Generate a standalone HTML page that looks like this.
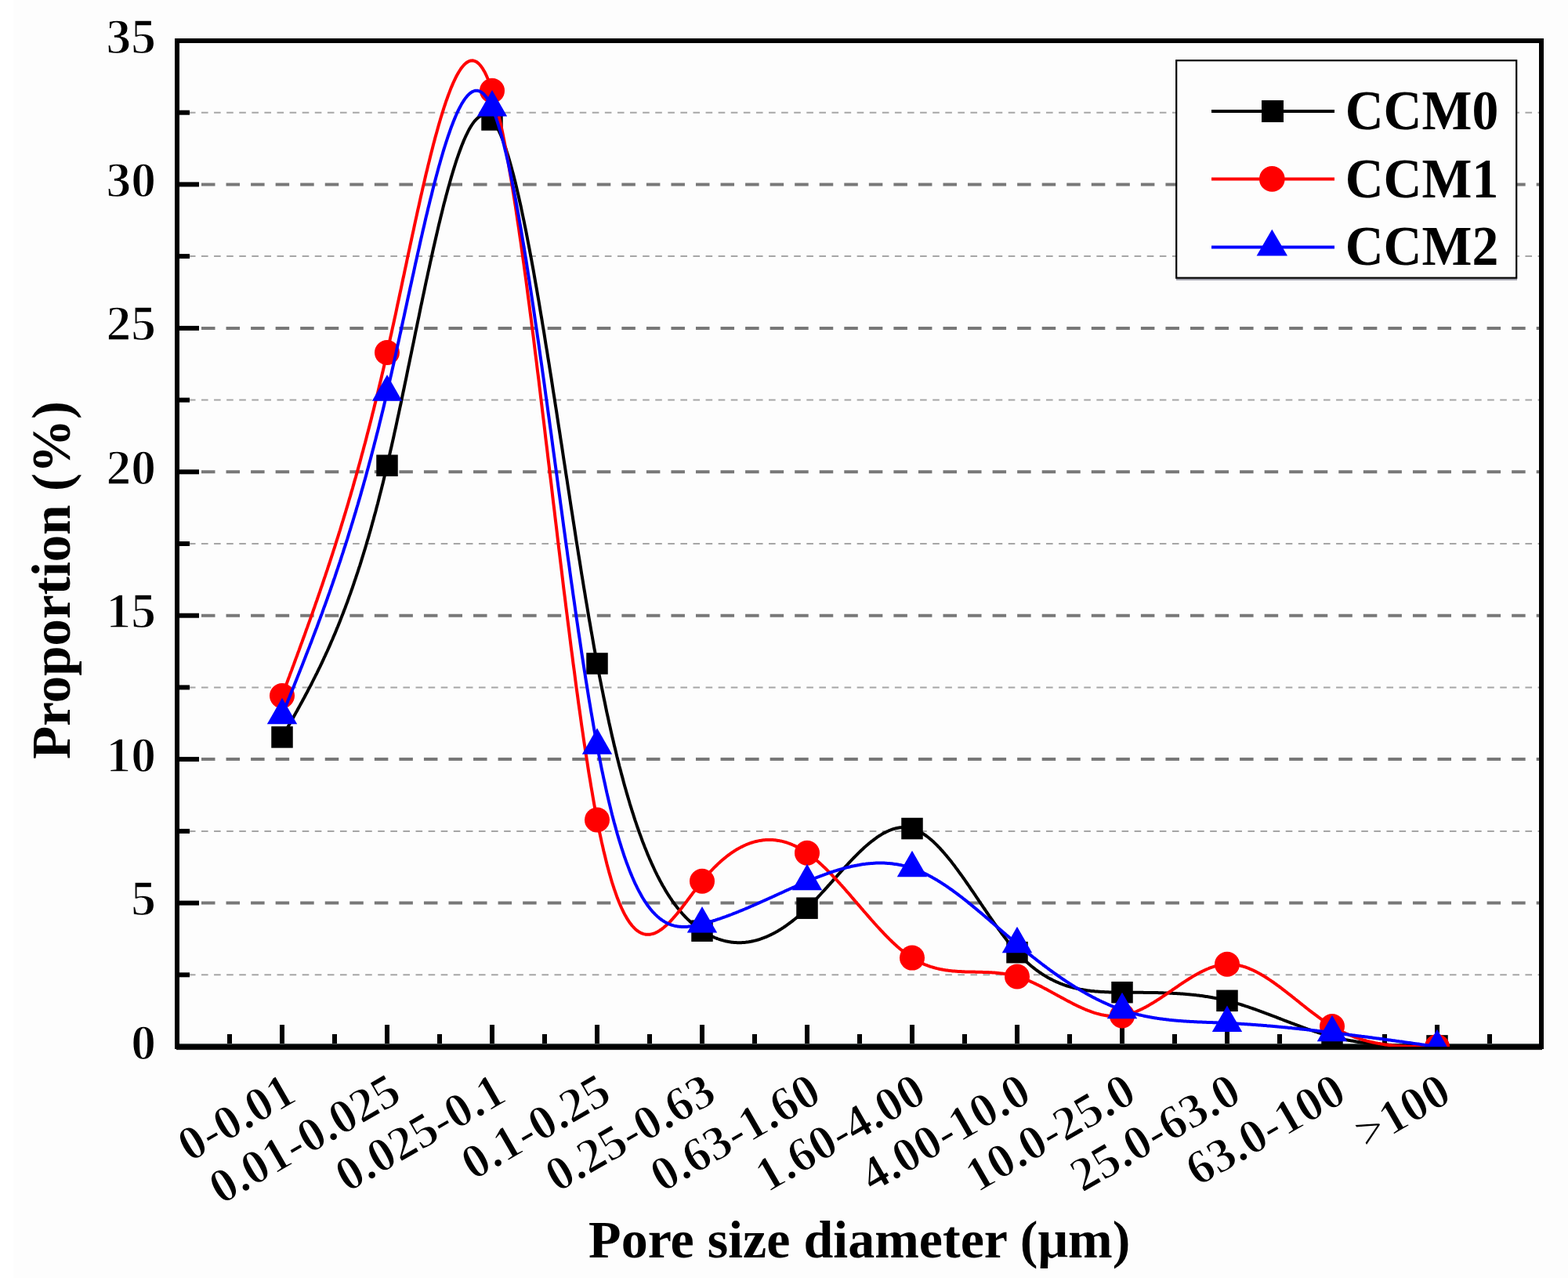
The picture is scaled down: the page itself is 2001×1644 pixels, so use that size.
<!DOCTYPE html>
<html><head><meta charset="utf-8"><title>Pore size distribution</title>
<style>html,body{margin:0;padding:0;background:#fff;width:2001px;height:1644px;overflow:hidden}svg{display:block}</style>
</head><body>
<svg width="2001" height="1644" viewBox="0 0 2001 1644">
<defs><clipPath id="pc"><rect x="226" y="52" width="1741" height="1284"/></clipPath></defs>
<rect width="2001" height="1644" fill="#fff"/>
<rect x="17" y="0" width="1984" height="1631" fill="#fdfdfd"/>
<g><line x1="224.8" y1="1244.3" x2="1967" y2="1244.3" stroke="#a6a6a6" stroke-width="2" stroke-dasharray="8.6 7.49"/><line x1="225.45" y1="1152.6" x2="1967" y2="1152.6" stroke="#787878" stroke-width="4" stroke-dasharray="17.5 14.05"/><line x1="224.8" y1="1060.9" x2="1967" y2="1060.9" stroke="#a6a6a6" stroke-width="2" stroke-dasharray="8.6 7.49"/><line x1="225.45" y1="969.1" x2="1967" y2="969.1" stroke="#787878" stroke-width="4" stroke-dasharray="17.5 14.05"/><line x1="224.8" y1="877.4" x2="1967" y2="877.4" stroke="#a6a6a6" stroke-width="2" stroke-dasharray="8.6 7.49"/><line x1="225.45" y1="785.7" x2="1967" y2="785.7" stroke="#787878" stroke-width="4" stroke-dasharray="17.5 14.05"/><line x1="224.8" y1="694.0" x2="1967" y2="694.0" stroke="#a6a6a6" stroke-width="2" stroke-dasharray="8.6 7.49"/><line x1="225.45" y1="602.3" x2="1967" y2="602.3" stroke="#787878" stroke-width="4" stroke-dasharray="17.5 14.05"/><line x1="224.8" y1="510.6" x2="1967" y2="510.6" stroke="#a6a6a6" stroke-width="2" stroke-dasharray="8.6 7.49"/><line x1="225.45" y1="418.9" x2="1967" y2="418.9" stroke="#787878" stroke-width="4" stroke-dasharray="17.5 14.05"/><line x1="224.8" y1="327.1" x2="1967" y2="327.1" stroke="#a6a6a6" stroke-width="2" stroke-dasharray="8.6 7.49"/><line x1="225.45" y1="235.4" x2="1967" y2="235.4" stroke="#787878" stroke-width="4" stroke-dasharray="17.5 14.05"/><line x1="224.8" y1="143.7" x2="1967" y2="143.7" stroke="#a6a6a6" stroke-width="2" stroke-dasharray="8.6 7.49"/></g>
<g stroke="#000" stroke-width="6"><line x1="226" y1="1336.0" x2="254" y2="1336.0"/><line x1="226" y1="1244.3" x2="242" y2="1244.3"/><line x1="226" y1="1152.6" x2="254" y2="1152.6"/><line x1="226" y1="1060.9" x2="242" y2="1060.9"/><line x1="226" y1="969.1" x2="254" y2="969.1"/><line x1="226" y1="877.4" x2="242" y2="877.4"/><line x1="226" y1="785.7" x2="254" y2="785.7"/><line x1="226" y1="694.0" x2="242" y2="694.0"/><line x1="226" y1="602.3" x2="254" y2="602.3"/><line x1="226" y1="510.6" x2="242" y2="510.6"/><line x1="226" y1="418.9" x2="254" y2="418.9"/><line x1="226" y1="327.1" x2="242" y2="327.1"/><line x1="226" y1="235.4" x2="254" y2="235.4"/><line x1="226" y1="143.7" x2="242" y2="143.7"/><line x1="226" y1="52.0" x2="254" y2="52.0"/><line x1="293.0" y1="1336" x2="293.0" y2="1320"/><line x1="360.0" y1="1336" x2="360.0" y2="1308"/><line x1="427.0" y1="1336" x2="427.0" y2="1320"/><line x1="494.0" y1="1336" x2="494.0" y2="1308"/><line x1="561.0" y1="1336" x2="561.0" y2="1320"/><line x1="628.0" y1="1336" x2="628.0" y2="1308"/><line x1="695.0" y1="1336" x2="695.0" y2="1320"/><line x1="762.0" y1="1336" x2="762.0" y2="1308"/><line x1="829.0" y1="1336" x2="829.0" y2="1320"/><line x1="896.0" y1="1336" x2="896.0" y2="1308"/><line x1="963.0" y1="1336" x2="963.0" y2="1320"/><line x1="1030.0" y1="1336" x2="1030.0" y2="1308"/><line x1="1097.0" y1="1336" x2="1097.0" y2="1320"/><line x1="1164.0" y1="1336" x2="1164.0" y2="1308"/><line x1="1231.0" y1="1336" x2="1231.0" y2="1320"/><line x1="1298.0" y1="1336" x2="1298.0" y2="1308"/><line x1="1365.0" y1="1336" x2="1365.0" y2="1320"/><line x1="1432.0" y1="1336" x2="1432.0" y2="1308"/><line x1="1499.0" y1="1336" x2="1499.0" y2="1320"/><line x1="1566.0" y1="1336" x2="1566.0" y2="1308"/><line x1="1633.0" y1="1336" x2="1633.0" y2="1320"/><line x1="1700.0" y1="1336" x2="1700.0" y2="1308"/><line x1="1767.0" y1="1336" x2="1767.0" y2="1320"/><line x1="1834.0" y1="1336" x2="1834.0" y2="1308"/><line x1="1901.0" y1="1336" x2="1901.0" y2="1320"/></g>
<rect x="226" y="52" width="1741" height="1284" fill="none" stroke="#000" stroke-width="6"/>
<rect x="225" y="1338.5" width="1743" height="1.6" fill="#1a1a1a"/>
<rect x="229" y="1332" width="1735" height="1.2" fill="#4a5252"/>
<g clip-path="url(#pc)">
<path d="M360.0,940.9 L361.3,938.5 L362.7,936.2 L364.0,933.8 L365.4,931.5 L366.7,929.1 L368.0,926.8 L369.4,924.4 L370.7,922.0 L372.1,919.7 L373.4,917.3 L374.8,914.9 L376.1,912.5 L377.4,910.1 L378.8,907.7 L380.1,905.3 L381.5,902.8 L382.8,900.4 L384.1,898.0 L385.5,895.5 L386.8,893.0 L388.2,890.5 L389.5,888.0 L390.8,885.5 L392.2,883.0 L393.5,880.4 L394.9,877.8 L396.2,875.3 L397.6,872.7 L398.9,870.0 L400.2,867.4 L401.6,864.7 L402.9,862.0 L404.3,859.3 L405.6,856.6 L406.9,853.9 L408.3,851.1 L409.6,848.3 L411.0,845.5 L412.3,842.6 L413.6,839.7 L415.0,836.8 L416.3,833.9 L417.7,831.0 L419.0,828.0 L420.4,824.9 L421.7,821.9 L423.0,818.8 L424.4,815.7 L425.7,812.6 L427.1,809.4 L428.4,806.2 L429.7,802.9 L431.1,799.7 L432.4,796.4 L433.8,793.0 L435.1,789.6 L436.4,786.2 L437.8,782.7 L439.1,779.2 L440.5,775.7 L441.8,772.1 L443.2,768.5 L444.5,764.8 L445.8,761.1 L447.2,757.4 L448.5,753.6 L449.9,749.7 L451.2,745.8 L452.5,741.9 L453.9,737.9 L455.2,733.9 L456.6,729.8 L457.9,725.7 L459.3,721.6 L460.6,717.3 L461.9,713.1 L463.3,708.7 L464.6,704.4 L466.0,699.9 L467.3,695.5 L468.6,690.9 L470.0,686.4 L471.3,681.7 L472.7,677.0 L474.0,672.3 L475.3,667.4 L476.7,662.6 L478.0,657.6 L479.4,652.7 L480.7,647.6 L482.1,642.5 L483.4,637.3 L484.7,632.1 L486.1,626.8 L487.4,621.5 L488.8,616.0 L490.1,610.5 L491.4,605.0 L492.8,599.4 L494.1,593.7 L495.5,587.9 L496.8,582.1 L498.1,576.3 L499.5,570.3 L500.8,564.3 L502.2,558.3 L503.5,552.2 L504.9,546.0 L506.2,539.9 L507.5,533.6 L508.9,527.4 L510.2,521.1 L511.6,514.7 L512.9,508.4 L514.2,502.0 L515.6,495.5 L516.9,489.1 L518.3,482.6 L519.6,476.2 L520.9,469.7 L522.3,463.2 L523.6,456.7 L525.0,450.1 L526.3,443.6 L527.7,437.1 L529.0,430.6 L530.3,424.1 L531.7,417.6 L533.0,411.1 L534.4,404.6 L535.7,398.1 L537.0,391.7 L538.4,385.3 L539.7,378.9 L541.1,372.5 L542.4,366.2 L543.7,359.9 L545.1,353.6 L546.4,347.4 L547.8,341.2 L549.1,335.1 L550.5,329.0 L551.8,322.9 L553.1,317.0 L554.5,311.0 L555.8,305.2 L557.2,299.3 L558.5,293.6 L559.8,287.9 L561.2,282.3 L562.5,276.8 L563.9,271.3 L565.2,265.9 L566.5,260.6 L567.9,255.4 L569.2,250.3 L570.6,245.3 L571.9,240.3 L573.3,235.5 L574.6,230.7 L575.9,226.1 L577.3,221.5 L578.6,217.1 L580.0,212.7 L581.3,208.5 L582.6,204.4 L584.0,200.4 L585.3,196.6 L586.7,192.8 L588.0,189.2 L589.3,185.7 L590.7,182.4 L592.0,179.1 L593.4,176.0 L594.7,173.1 L596.1,170.3 L597.4,167.6 L598.7,165.1 L600.1,162.8 L601.4,160.6 L602.8,158.5 L604.1,156.6 L605.4,154.9 L606.8,153.4 L608.1,152.0 L609.5,150.7 L610.8,149.7 L612.1,148.8 L613.5,148.1 L614.8,147.6 L616.2,147.3 L617.5,147.2 L618.9,147.2 L620.2,147.5 L621.5,147.9 L622.9,148.6 L624.2,149.4 L625.6,150.4 L626.9,151.7 L628.2,153.2 L629.6,154.8 L630.9,156.7 L632.3,158.8 L633.6,161.1 L634.9,163.6 L636.3,166.3 L637.6,169.2 L639.0,172.2 L640.3,175.5 L641.7,178.9 L643.0,182.6 L644.3,186.4 L645.7,190.3 L647.0,194.5 L648.4,198.8 L649.7,203.3 L651.0,207.9 L652.4,212.7 L653.7,217.7 L655.1,222.8 L656.4,228.0 L657.8,233.4 L659.1,239.0 L660.4,244.7 L661.8,250.5 L663.1,256.5 L664.5,262.5 L665.8,268.8 L667.1,275.1 L668.5,281.6 L669.8,288.1 L671.2,294.8 L672.5,301.6 L673.8,308.5 L675.2,315.6 L676.5,322.7 L677.9,329.9 L679.2,337.2 L680.6,344.6 L681.9,352.1 L683.2,359.7 L684.6,367.4 L685.9,375.1 L687.3,383.0 L688.6,390.9 L689.9,398.9 L691.3,406.9 L692.6,415.0 L694.0,423.2 L695.3,431.4 L696.6,439.7 L698.0,448.0 L699.3,456.4 L700.7,464.9 L702.0,473.3 L703.4,481.8 L704.7,490.4 L706.0,499.0 L707.4,507.6 L708.7,516.3 L710.1,524.9 L711.4,533.6 L712.7,542.3 L714.1,551.1 L715.4,559.8 L716.8,568.5 L718.1,577.3 L719.4,586.0 L720.8,594.8 L722.1,603.6 L723.5,612.3 L724.8,621.0 L726.2,629.8 L727.5,638.5 L728.8,647.1 L730.2,655.8 L731.5,664.4 L732.9,673.1 L734.2,681.6 L735.5,690.2 L736.9,698.7 L738.2,707.1 L739.6,715.6 L740.9,723.9 L742.2,732.3 L743.6,740.5 L744.9,748.7 L746.3,756.9 L747.6,765.0 L749.0,773.0 L750.3,781.0 L751.6,788.8 L753.0,796.7 L754.3,804.4 L755.7,812.0 L757.0,819.6 L758.3,827.1 L759.7,834.4 L761.0,841.7 L762.4,848.9 L763.7,856.0 L765.0,863.0 L766.4,869.9 L767.7,876.7 L769.1,883.4 L770.4,890.0 L771.8,896.5 L773.1,903.0 L774.4,909.3 L775.8,915.5 L777.1,921.7 L778.5,927.7 L779.8,933.7 L781.1,939.5 L782.5,945.3 L783.8,951.0 L785.2,956.6 L786.5,962.1 L787.8,967.6 L789.2,972.9 L790.5,978.2 L791.9,983.3 L793.2,988.4 L794.6,993.4 L795.9,998.4 L797.2,1003.2 L798.6,1008.0 L799.9,1012.7 L801.3,1017.3 L802.6,1021.8 L803.9,1026.3 L805.3,1030.7 L806.6,1035.0 L808.0,1039.2 L809.3,1043.3 L810.6,1047.4 L812.0,1051.4 L813.3,1055.3 L814.7,1059.2 L816.0,1063.0 L817.4,1066.7 L818.7,1070.4 L820.0,1074.0 L821.4,1077.5 L822.7,1080.9 L824.1,1084.3 L825.4,1087.6 L826.7,1090.9 L828.1,1094.0 L829.4,1097.2 L830.8,1100.2 L832.1,1103.2 L833.5,1106.2 L834.8,1109.0 L836.1,1111.9 L837.5,1114.6 L838.8,1117.3 L840.2,1120.0 L841.5,1122.5 L842.8,1125.1 L844.2,1127.5 L845.5,1130.0 L846.9,1132.3 L848.2,1134.6 L849.5,1136.9 L850.9,1139.1 L852.2,1141.2 L853.6,1143.4 L854.9,1145.4 L856.3,1147.4 L857.6,1149.4 L858.9,1151.3 L860.3,1153.1 L861.6,1155.0 L863.0,1156.7 L864.3,1158.5 L865.6,1160.1 L867.0,1161.8 L868.3,1163.4 L869.7,1164.9 L871.0,1166.5 L872.3,1167.9 L873.7,1169.4 L875.0,1170.8 L876.4,1172.1 L877.7,1173.5 L879.1,1174.7 L880.4,1176.0 L881.7,1177.2 L883.1,1178.4 L884.4,1179.5 L885.8,1180.6 L887.1,1181.7 L888.4,1182.8 L889.8,1183.8 L891.1,1184.8 L892.5,1185.8 L893.8,1186.7 L895.1,1187.6 L896.5,1188.5 L897.8,1189.3 L899.2,1190.2 L900.5,1190.9 L901.9,1191.7 L903.2,1192.5 L904.5,1193.2 L905.9,1193.9 L907.2,1194.6 L908.6,1195.2 L909.9,1195.8 L911.2,1196.4 L912.6,1197.0 L913.9,1197.5 L915.3,1198.0 L916.6,1198.5 L917.9,1199.0 L919.3,1199.4 L920.6,1199.8 L922.0,1200.2 L923.3,1200.6 L924.7,1200.9 L926.0,1201.3 L927.3,1201.6 L928.7,1201.8 L930.0,1202.1 L931.4,1202.3 L932.7,1202.5 L934.0,1202.7 L935.4,1202.8 L936.7,1202.9 L938.1,1203.0 L939.4,1203.1 L940.7,1203.2 L942.1,1203.2 L943.4,1203.2 L944.8,1203.2 L946.1,1203.2 L947.5,1203.1 L948.8,1203.0 L950.1,1202.9 L951.5,1202.8 L952.8,1202.6 L954.2,1202.4 L955.5,1202.3 L956.8,1202.0 L958.2,1201.8 L959.5,1201.5 L960.9,1201.2 L962.2,1200.9 L963.5,1200.6 L964.9,1200.3 L966.2,1199.9 L967.6,1199.5 L968.9,1199.1 L970.3,1198.6 L971.6,1198.2 L972.9,1197.7 L974.3,1197.2 L975.6,1196.7 L977.0,1196.2 L978.3,1195.6 L979.6,1195.0 L981.0,1194.4 L982.3,1193.8 L983.7,1193.1 L985.0,1192.5 L986.3,1191.8 L987.7,1191.1 L989.0,1190.4 L990.4,1189.6 L991.7,1188.9 L993.1,1188.1 L994.4,1187.3 L995.7,1186.5 L997.1,1185.6 L998.4,1184.8 L999.8,1183.9 L1001.1,1183.0 L1002.4,1182.1 L1003.8,1181.1 L1005.1,1180.2 L1006.5,1179.2 L1007.8,1178.2 L1009.2,1177.2 L1010.5,1176.2 L1011.8,1175.1 L1013.2,1174.0 L1014.5,1173.0 L1015.9,1171.9 L1017.2,1170.7 L1018.5,1169.6 L1019.9,1168.5 L1021.2,1167.3 L1022.6,1166.1 L1023.9,1164.9 L1025.2,1163.7 L1026.6,1162.4 L1027.9,1161.2 L1029.3,1159.9 L1030.6,1158.6 L1032.0,1157.3 L1033.3,1155.9 L1034.6,1154.6 L1036.0,1153.3 L1037.3,1151.9 L1038.7,1150.5 L1040.0,1149.1 L1041.3,1147.7 L1042.7,1146.3 L1044.0,1144.9 L1045.4,1143.4 L1046.7,1142.0 L1048.0,1140.5 L1049.4,1139.0 L1050.7,1137.6 L1052.1,1136.1 L1053.4,1134.6 L1054.8,1133.1 L1056.1,1131.6 L1057.4,1130.1 L1058.8,1128.6 L1060.1,1127.1 L1061.5,1125.6 L1062.8,1124.1 L1064.1,1122.6 L1065.5,1121.1 L1066.8,1119.6 L1068.2,1118.1 L1069.5,1116.6 L1070.8,1115.1 L1072.2,1113.6 L1073.5,1112.1 L1074.9,1110.6 L1076.2,1109.2 L1077.6,1107.7 L1078.9,1106.2 L1080.2,1104.8 L1081.6,1103.3 L1082.9,1101.9 L1084.3,1100.4 L1085.6,1099.0 L1086.9,1097.6 L1088.3,1096.2 L1089.6,1094.8 L1091.0,1093.5 L1092.3,1092.1 L1093.6,1090.8 L1095.0,1089.4 L1096.3,1088.1 L1097.7,1086.8 L1099.0,1085.5 L1100.4,1084.3 L1101.7,1083.0 L1103.0,1081.8 L1104.4,1080.6 L1105.7,1079.4 L1107.1,1078.3 L1108.4,1077.1 L1109.7,1076.0 L1111.1,1074.9 L1112.4,1073.8 L1113.8,1072.8 L1115.1,1071.8 L1116.4,1070.8 L1117.8,1069.8 L1119.1,1068.8 L1120.5,1067.9 L1121.8,1067.0 L1123.2,1066.2 L1124.5,1065.4 L1125.8,1064.6 L1127.2,1063.8 L1128.5,1063.1 L1129.9,1062.4 L1131.2,1061.7 L1132.5,1061.1 L1133.9,1060.5 L1135.2,1059.9 L1136.6,1059.4 L1137.9,1058.9 L1139.2,1058.4 L1140.6,1058.0 L1141.9,1057.6 L1143.3,1057.3 L1144.6,1057.0 L1146.0,1056.7 L1147.3,1056.5 L1148.6,1056.3 L1150.0,1056.2 L1151.3,1056.1 L1152.7,1056.1 L1154.0,1056.1 L1155.3,1056.1 L1156.7,1056.2 L1158.0,1056.4 L1159.4,1056.5 L1160.7,1056.8 L1162.0,1057.1 L1163.4,1057.4 L1164.7,1057.8 L1166.1,1058.2 L1167.4,1058.7 L1168.8,1059.2 L1170.1,1059.8 L1171.4,1060.4 L1172.8,1061.1 L1174.1,1061.8 L1175.5,1062.6 L1176.8,1063.4 L1178.1,1064.2 L1179.5,1065.1 L1180.8,1066.0 L1182.2,1067.0 L1183.5,1068.0 L1184.8,1069.0 L1186.2,1070.1 L1187.5,1071.3 L1188.9,1072.4 L1190.2,1073.6 L1191.6,1074.8 L1192.9,1076.1 L1194.2,1077.4 L1195.6,1078.7 L1196.9,1080.1 L1198.3,1081.5 L1199.6,1082.9 L1200.9,1084.4 L1202.3,1085.9 L1203.6,1087.4 L1205.0,1088.9 L1206.3,1090.5 L1207.7,1092.1 L1209.0,1093.7 L1210.3,1095.3 L1211.7,1097.0 L1213.0,1098.6 L1214.4,1100.3 L1215.7,1102.1 L1217.0,1103.8 L1218.4,1105.6 L1219.7,1107.4 L1221.1,1109.2 L1222.4,1111.0 L1223.7,1112.8 L1225.1,1114.7 L1226.4,1116.5 L1227.8,1118.4 L1229.1,1120.3 L1230.5,1122.2 L1231.8,1124.1 L1233.1,1126.0 L1234.5,1128.0 L1235.8,1129.9 L1237.2,1131.8 L1238.5,1133.8 L1239.8,1135.8 L1241.2,1137.7 L1242.5,1139.7 L1243.9,1141.7 L1245.2,1143.7 L1246.5,1145.6 L1247.9,1147.6 L1249.2,1149.6 L1250.6,1151.6 L1251.9,1153.6 L1253.3,1155.6 L1254.6,1157.6 L1255.9,1159.5 L1257.3,1161.5 L1258.6,1163.5 L1260.0,1165.5 L1261.3,1167.4 L1262.6,1169.4 L1264.0,1171.3 L1265.3,1173.2 L1266.7,1175.2 L1268.0,1177.1 L1269.3,1179.0 L1270.7,1180.9 L1272.0,1182.8 L1273.4,1184.6 L1274.7,1186.5 L1276.1,1188.3 L1277.4,1190.2 L1278.7,1192.0 L1280.1,1193.8 L1281.4,1195.5 L1282.8,1197.3 L1284.1,1199.0 L1285.4,1200.7 L1286.8,1202.4 L1288.1,1204.1 L1289.5,1205.8 L1290.8,1207.4 L1292.1,1209.0 L1293.5,1210.6 L1294.8,1212.1 L1296.2,1213.6 L1297.5,1215.1 L1298.9,1216.6 L1300.2,1218.0 L1301.5,1219.5 L1302.9,1220.8 L1304.2,1222.2 L1305.6,1223.5 L1306.9,1224.8 L1308.2,1226.1 L1309.6,1227.4 L1310.9,1228.6 L1312.3,1229.8 L1313.6,1230.9 L1314.9,1232.1 L1316.3,1233.2 L1317.6,1234.3 L1319.0,1235.4 L1320.3,1236.4 L1321.7,1237.5 L1323.0,1238.5 L1324.3,1239.4 L1325.7,1240.4 L1327.0,1241.3 L1328.4,1242.2 L1329.7,1243.1 L1331.0,1244.0 L1332.4,1244.8 L1333.7,1245.6 L1335.1,1246.4 L1336.4,1247.2 L1337.7,1248.0 L1339.1,1248.7 L1340.4,1249.4 L1341.8,1250.1 L1343.1,1250.8 L1344.5,1251.5 L1345.8,1252.1 L1347.1,1252.7 L1348.5,1253.4 L1349.8,1253.9 L1351.2,1254.5 L1352.5,1255.1 L1353.8,1255.6 L1355.2,1256.1 L1356.5,1256.6 L1357.9,1257.1 L1359.2,1257.6 L1360.5,1258.0 L1361.9,1258.5 L1363.2,1258.9 L1364.6,1259.3 L1365.9,1259.7 L1367.3,1260.1 L1368.6,1260.4 L1369.9,1260.8 L1371.3,1261.1 L1372.6,1261.4 L1374.0,1261.7 L1375.3,1262.0 L1376.6,1262.3 L1378.0,1262.6 L1379.3,1262.9 L1380.7,1263.1 L1382.0,1263.3 L1383.4,1263.6 L1384.7,1263.8 L1386.0,1264.0 L1387.4,1264.2 L1388.7,1264.4 L1390.1,1264.5 L1391.4,1264.7 L1392.7,1264.9 L1394.1,1265.0 L1395.4,1265.1 L1396.8,1265.3 L1398.1,1265.4 L1399.4,1265.5 L1400.8,1265.6 L1402.1,1265.7 L1403.5,1265.8 L1404.8,1265.9 L1406.2,1266.0 L1407.5,1266.1 L1408.8,1266.1 L1410.2,1266.2 L1411.5,1266.2 L1412.9,1266.3 L1414.2,1266.3 L1415.5,1266.4 L1416.9,1266.4 L1418.2,1266.5 L1419.6,1266.5 L1420.9,1266.5 L1422.2,1266.5 L1423.6,1266.6 L1424.9,1266.6 L1426.3,1266.6 L1427.6,1266.6 L1429.0,1266.6 L1430.3,1266.6 L1431.6,1266.7 L1433.0,1266.7 L1434.3,1266.7 L1435.7,1266.7 L1437.0,1266.7 L1438.3,1266.7 L1439.7,1266.7 L1441.0,1266.7 L1442.4,1266.7 L1443.7,1266.7 L1445.0,1266.7 L1446.4,1266.8 L1447.7,1266.8 L1449.1,1266.8 L1450.4,1266.8 L1451.8,1266.8 L1453.1,1266.8 L1454.4,1266.8 L1455.8,1266.8 L1457.1,1266.8 L1458.5,1266.8 L1459.8,1266.9 L1461.1,1266.9 L1462.5,1266.9 L1463.8,1266.9 L1465.2,1266.9 L1466.5,1266.9 L1467.8,1266.9 L1469.2,1267.0 L1470.5,1267.0 L1471.9,1267.0 L1473.2,1267.0 L1474.6,1267.1 L1475.9,1267.1 L1477.2,1267.1 L1478.6,1267.2 L1479.9,1267.2 L1481.3,1267.2 L1482.6,1267.3 L1483.9,1267.3 L1485.3,1267.4 L1486.6,1267.4 L1488.0,1267.4 L1489.3,1267.5 L1490.6,1267.5 L1492.0,1267.6 L1493.3,1267.7 L1494.7,1267.7 L1496.0,1267.8 L1497.4,1267.9 L1498.7,1267.9 L1500.0,1268.0 L1501.4,1268.1 L1502.7,1268.2 L1504.1,1268.2 L1505.4,1268.3 L1506.7,1268.4 L1508.1,1268.5 L1509.4,1268.6 L1510.8,1268.7 L1512.1,1268.8 L1513.4,1268.9 L1514.8,1269.1 L1516.1,1269.2 L1517.5,1269.3 L1518.8,1269.4 L1520.2,1269.6 L1521.5,1269.7 L1522.8,1269.8 L1524.2,1270.0 L1525.5,1270.1 L1526.9,1270.3 L1528.2,1270.4 L1529.5,1270.6 L1530.9,1270.8 L1532.2,1271.0 L1533.6,1271.1 L1534.9,1271.3 L1536.2,1271.5 L1537.6,1271.7 L1538.9,1271.9 L1540.3,1272.1 L1541.6,1272.3 L1543.0,1272.6 L1544.3,1272.8 L1545.6,1273.0 L1547.0,1273.2 L1548.3,1273.5 L1549.7,1273.7 L1551.0,1274.0 L1552.3,1274.3 L1553.7,1274.5 L1555.0,1274.8 L1556.4,1275.1 L1557.7,1275.4 L1559.1,1275.7 L1560.4,1276.0 L1561.7,1276.3 L1563.1,1276.6 L1564.4,1276.9 L1565.8,1277.2 L1567.1,1277.6 L1568.4,1277.9 L1569.8,1278.3 L1571.1,1278.6 L1572.5,1279.0 L1573.8,1279.4 L1575.1,1279.7 L1576.5,1280.1 L1577.8,1280.5 L1579.2,1280.9 L1580.5,1281.3 L1581.9,1281.7 L1583.2,1282.1 L1584.5,1282.5 L1585.9,1283.0 L1587.2,1283.4 L1588.6,1283.8 L1589.9,1284.3 L1591.2,1284.7 L1592.6,1285.2 L1593.9,1285.6 L1595.3,1286.1 L1596.6,1286.5 L1597.9,1287.0 L1599.3,1287.5 L1600.6,1287.9 L1602.0,1288.4 L1603.3,1288.9 L1604.7,1289.4 L1606.0,1289.8 L1607.3,1290.3 L1608.7,1290.8 L1610.0,1291.3 L1611.4,1291.8 L1612.7,1292.3 L1614.0,1292.8 L1615.4,1293.3 L1616.7,1293.8 L1618.1,1294.3 L1619.4,1294.8 L1620.7,1295.3 L1622.1,1295.9 L1623.4,1296.4 L1624.8,1296.9 L1626.1,1297.4 L1627.5,1297.9 L1628.8,1298.4 L1630.1,1299.0 L1631.5,1299.5 L1632.8,1300.0 L1634.2,1300.5 L1635.5,1301.0 L1636.8,1301.5 L1638.2,1302.1 L1639.5,1302.6 L1640.9,1303.1 L1642.2,1303.6 L1643.5,1304.1 L1644.9,1304.6 L1646.2,1305.1 L1647.6,1305.7 L1648.9,1306.2 L1650.3,1306.7 L1651.6,1307.2 L1652.9,1307.7 L1654.3,1308.2 L1655.6,1308.7 L1657.0,1309.2 L1658.3,1309.7 L1659.6,1310.2 L1661.0,1310.7 L1662.3,1311.2 L1663.7,1311.7 L1665.0,1312.1 L1666.3,1312.6 L1667.7,1313.1 L1669.0,1313.6 L1670.4,1314.0 L1671.7,1314.5 L1673.1,1315.0 L1674.4,1315.4 L1675.7,1315.9 L1677.1,1316.3 L1678.4,1316.8 L1679.8,1317.2 L1681.1,1317.6 L1682.4,1318.1 L1683.8,1318.5 L1685.1,1318.9 L1686.5,1319.3 L1687.8,1319.7 L1689.1,1320.1 L1690.5,1320.5 L1691.8,1320.9 L1693.2,1321.3 L1694.5,1321.7 L1695.9,1322.1 L1697.2,1322.4 L1698.5,1322.8 L1699.9,1323.1 L1701.2,1323.5 L1702.6,1323.8 L1703.9,1324.1 L1705.2,1324.5 L1706.6,1324.8 L1707.9,1325.1 L1709.3,1325.4 L1710.6,1325.7 L1711.9,1326.0 L1713.3,1326.3 L1714.6,1326.6 L1716.0,1326.8 L1717.3,1327.1 L1718.7,1327.4 L1720.0,1327.6 L1721.3,1327.9 L1722.7,1328.1 L1724.0,1328.4 L1725.4,1328.6 L1726.7,1328.8 L1728.0,1329.0 L1729.4,1329.2 L1730.7,1329.5 L1732.1,1329.7 L1733.4,1329.9 L1734.7,1330.1 L1736.1,1330.2 L1737.4,1330.4 L1738.8,1330.6 L1740.1,1330.8 L1741.5,1331.0 L1742.8,1331.1 L1744.1,1331.3 L1745.5,1331.4 L1746.8,1331.6 L1748.2,1331.7 L1749.5,1331.9 L1750.8,1332.0 L1752.2,1332.1 L1753.5,1332.3 L1754.9,1332.4 L1756.2,1332.5 L1757.6,1332.6 L1758.9,1332.8 L1760.2,1332.9 L1761.6,1333.0 L1762.9,1333.1 L1764.3,1333.2 L1765.6,1333.3 L1766.9,1333.3 L1768.3,1333.4 L1769.6,1333.5 L1771.0,1333.6 L1772.3,1333.7 L1773.6,1333.8 L1775.0,1333.8 L1776.3,1333.9 L1777.7,1334.0 L1779.0,1334.0 L1780.4,1334.1 L1781.7,1334.1 L1783.0,1334.2 L1784.4,1334.2 L1785.7,1334.3 L1787.1,1334.3 L1788.4,1334.4 L1789.7,1334.4 L1791.1,1334.5 L1792.4,1334.5 L1793.8,1334.5 L1795.1,1334.6 L1796.4,1334.6 L1797.8,1334.6 L1799.1,1334.6 L1800.5,1334.7 L1801.8,1334.7 L1803.2,1334.7 L1804.5,1334.7 L1805.8,1334.7 L1807.2,1334.8 L1808.5,1334.8 L1809.9,1334.8 L1811.2,1334.8 L1812.5,1334.8 L1813.9,1334.8 L1815.2,1334.8 L1816.6,1334.8 L1817.9,1334.9 L1819.2,1334.9 L1820.6,1334.9 L1821.9,1334.9 L1823.3,1334.9 L1824.6,1334.9 L1826.0,1334.9 L1827.3,1334.9 L1828.6,1334.9 L1830.0,1334.9 L1831.3,1334.9 L1832.7,1334.9 L1834.0,1334.9" fill="none" stroke="#000" stroke-width="4" stroke-linejoin="round"/><g fill="#000"><rect x="346.25" y="927.14" width="27.50" height="27.50"/><rect x="480.25" y="580.46" width="27.50" height="27.50"/><rect x="614.25" y="139.14" width="27.50" height="27.50"/><rect x="748.25" y="833.23" width="27.50" height="27.50"/><rect x="882.25" y="1174.41" width="27.50" height="27.50"/><rect x="1016.25" y="1145.42" width="27.50" height="27.50"/><rect x="1150.25" y="1043.81" width="27.50" height="27.50"/><rect x="1284.25" y="1201.92" width="27.50" height="27.50"/><rect x="1418.25" y="1252.91" width="27.50" height="27.50"/><rect x="1552.25" y="1263.55" width="27.50" height="27.50"/><rect x="1686.25" y="1309.41" width="27.50" height="27.50"/><rect x="1820.25" y="1321.15" width="27.50" height="27.50"/></g>
<path d="M360.0,888.1 L361.3,884.5 L362.7,880.9 L364.0,877.3 L365.4,873.7 L366.7,870.1 L368.0,866.5 L369.4,862.9 L370.7,859.2 L372.1,855.6 L373.4,852.0 L374.8,848.4 L376.1,844.8 L377.4,841.1 L378.8,837.5 L380.1,833.8 L381.5,830.2 L382.8,826.5 L384.1,822.8 L385.5,819.2 L386.8,815.5 L388.2,811.8 L389.5,808.1 L390.8,804.3 L392.2,800.6 L393.5,796.9 L394.9,793.1 L396.2,789.4 L397.6,785.6 L398.9,781.8 L400.2,778.0 L401.6,774.2 L402.9,770.3 L404.3,766.5 L405.6,762.6 L406.9,758.8 L408.3,754.9 L409.6,750.9 L411.0,747.0 L412.3,743.1 L413.6,739.1 L415.0,735.1 L416.3,731.1 L417.7,727.1 L419.0,723.0 L420.4,719.0 L421.7,714.9 L423.0,710.8 L424.4,706.6 L425.7,702.5 L427.1,698.3 L428.4,694.1 L429.7,689.9 L431.1,685.6 L432.4,681.4 L433.8,677.1 L435.1,672.7 L436.4,668.4 L437.8,664.0 L439.1,659.6 L440.5,655.2 L441.8,650.7 L443.2,646.2 L444.5,641.7 L445.8,637.1 L447.2,632.6 L448.5,627.9 L449.9,623.3 L451.2,618.6 L452.5,613.9 L453.9,609.2 L455.2,604.4 L456.6,599.6 L457.9,594.8 L459.3,589.9 L460.6,585.0 L461.9,580.0 L463.3,575.1 L464.6,570.0 L466.0,565.0 L467.3,559.9 L468.6,554.8 L470.0,549.6 L471.3,544.4 L472.7,539.1 L474.0,533.9 L475.3,528.5 L476.7,523.2 L478.0,517.8 L479.4,512.3 L480.7,506.8 L482.1,501.3 L483.4,495.7 L484.7,490.1 L486.1,484.4 L487.4,478.7 L488.8,473.0 L490.1,467.2 L491.4,461.3 L492.8,455.4 L494.1,449.5 L495.5,443.5 L496.8,437.5 L498.1,431.4 L499.5,425.3 L500.8,419.2 L502.2,413.0 L503.5,406.8 L504.9,400.6 L506.2,394.3 L507.5,388.0 L508.9,381.8 L510.2,375.5 L511.6,369.1 L512.9,362.8 L514.2,356.5 L515.6,350.2 L516.9,343.8 L518.3,337.5 L519.6,331.2 L520.9,324.9 L522.3,318.6 L523.6,312.3 L525.0,306.0 L526.3,299.8 L527.7,293.6 L529.0,287.4 L530.3,281.3 L531.7,275.1 L533.0,269.0 L534.4,263.0 L535.7,257.0 L537.0,251.0 L538.4,245.1 L539.7,239.3 L541.1,233.5 L542.4,227.7 L543.7,222.0 L545.1,216.4 L546.4,210.9 L547.8,205.4 L549.1,200.0 L550.5,194.6 L551.8,189.4 L553.1,184.2 L554.5,179.1 L555.8,174.1 L557.2,169.2 L558.5,164.4 L559.8,159.7 L561.2,155.0 L562.5,150.5 L563.9,146.1 L565.2,141.8 L566.5,137.6 L567.9,133.5 L569.2,129.5 L570.6,125.7 L571.9,122.0 L573.3,118.4 L574.6,114.9 L575.9,111.6 L577.3,108.4 L578.6,105.3 L580.0,102.4 L581.3,99.6 L582.6,97.0 L584.0,94.5 L585.3,92.2 L586.7,90.0 L588.0,88.0 L589.3,86.2 L590.7,84.5 L592.0,83.0 L593.4,81.6 L594.7,80.5 L596.1,79.5 L597.4,78.7 L598.7,78.1 L600.1,77.6 L601.4,77.4 L602.8,77.3 L604.1,77.4 L605.4,77.8 L606.8,78.3 L608.1,79.0 L609.5,80.0 L610.8,81.1 L612.1,82.5 L613.5,84.1 L614.8,85.9 L616.2,87.9 L617.5,90.2 L618.9,92.6 L620.2,95.3 L621.5,98.3 L622.9,101.5 L624.2,104.9 L625.6,108.5 L626.9,112.5 L628.2,116.6 L629.6,121.0 L630.9,125.7 L632.3,130.6 L633.6,135.7 L634.9,141.0 L636.3,146.6 L637.6,152.5 L639.0,158.5 L640.3,164.7 L641.7,171.2 L643.0,177.9 L644.3,184.7 L645.7,191.8 L647.0,199.0 L648.4,206.5 L649.7,214.1 L651.0,221.9 L652.4,229.9 L653.7,238.0 L655.1,246.3 L656.4,254.8 L657.8,263.4 L659.1,272.2 L660.4,281.1 L661.8,290.2 L663.1,299.4 L664.5,308.7 L665.8,318.2 L667.1,327.8 L668.5,337.5 L669.8,347.3 L671.2,357.3 L672.5,367.3 L673.8,377.5 L675.2,387.7 L676.5,398.1 L677.9,408.5 L679.2,419.0 L680.6,429.6 L681.9,440.3 L683.2,451.0 L684.6,461.8 L685.9,472.7 L687.3,483.6 L688.6,494.6 L689.9,505.6 L691.3,516.7 L692.6,527.8 L694.0,538.9 L695.3,550.1 L696.6,561.3 L698.0,572.5 L699.3,583.8 L700.7,595.0 L702.0,606.3 L703.4,617.6 L704.7,628.8 L706.0,640.1 L707.4,651.3 L708.7,662.6 L710.1,673.8 L711.4,685.0 L712.7,696.1 L714.1,707.3 L715.4,718.3 L716.8,729.4 L718.1,740.4 L719.4,751.4 L720.8,762.3 L722.1,773.1 L723.5,783.9 L724.8,794.6 L726.2,805.2 L727.5,815.8 L728.8,826.3 L730.2,836.6 L731.5,846.9 L732.9,857.1 L734.2,867.3 L735.5,877.3 L736.9,887.1 L738.2,896.9 L739.6,906.6 L740.9,916.1 L742.2,925.5 L743.6,934.8 L744.9,944.0 L746.3,953.0 L747.6,961.8 L749.0,970.5 L750.3,979.1 L751.6,987.5 L753.0,995.7 L754.3,1003.8 L755.7,1011.7 L757.0,1019.4 L758.3,1026.9 L759.7,1034.3 L761.0,1041.5 L762.4,1048.4 L763.7,1055.2 L765.0,1061.8 L766.4,1068.2 L767.7,1074.4 L769.1,1080.4 L770.4,1086.2 L771.8,1091.8 L773.1,1097.3 L774.4,1102.6 L775.8,1107.7 L777.1,1112.6 L778.5,1117.4 L779.8,1122.0 L781.1,1126.4 L782.5,1130.6 L783.8,1134.7 L785.2,1138.7 L786.5,1142.4 L787.8,1146.1 L789.2,1149.5 L790.5,1152.8 L791.9,1156.0 L793.2,1159.0 L794.6,1161.9 L795.9,1164.6 L797.2,1167.2 L798.6,1169.6 L799.9,1171.9 L801.3,1174.1 L802.6,1176.1 L803.9,1178.0 L805.3,1179.8 L806.6,1181.5 L808.0,1183.0 L809.3,1184.4 L810.6,1185.7 L812.0,1186.9 L813.3,1188.0 L814.7,1188.9 L816.0,1189.8 L817.4,1190.5 L818.7,1191.1 L820.0,1191.7 L821.4,1192.1 L822.7,1192.4 L824.1,1192.7 L825.4,1192.8 L826.7,1192.8 L828.1,1192.8 L829.4,1192.7 L830.8,1192.4 L832.1,1192.1 L833.5,1191.8 L834.8,1191.3 L836.1,1190.8 L837.5,1190.2 L838.8,1189.5 L840.2,1188.7 L841.5,1187.9 L842.8,1187.0 L844.2,1186.1 L845.5,1185.1 L846.9,1184.0 L848.2,1182.9 L849.5,1181.7 L850.9,1180.5 L852.2,1179.2 L853.6,1177.9 L854.9,1176.6 L856.3,1175.1 L857.6,1173.7 L858.9,1172.2 L860.3,1170.7 L861.6,1169.1 L863.0,1167.5 L864.3,1165.9 L865.6,1164.3 L867.0,1162.6 L868.3,1160.9 L869.7,1159.2 L871.0,1157.5 L872.3,1155.7 L873.7,1154.0 L875.0,1152.2 L876.4,1150.4 L877.7,1148.6 L879.1,1146.8 L880.4,1145.0 L881.7,1143.2 L883.1,1141.4 L884.4,1139.6 L885.8,1137.9 L887.1,1136.1 L888.4,1134.3 L889.8,1132.6 L891.1,1130.8 L892.5,1129.1 L893.8,1127.4 L895.1,1125.7 L896.5,1124.1 L897.8,1122.5 L899.2,1120.9 L900.5,1119.3 L901.9,1117.7 L903.2,1116.2 L904.5,1114.7 L905.9,1113.2 L907.2,1111.8 L908.6,1110.4 L909.9,1109.0 L911.2,1107.6 L912.6,1106.3 L913.9,1105.0 L915.3,1103.7 L916.6,1102.4 L917.9,1101.2 L919.3,1099.9 L920.6,1098.8 L922.0,1097.6 L923.3,1096.5 L924.7,1095.3 L926.0,1094.3 L927.3,1093.2 L928.7,1092.2 L930.0,1091.1 L931.4,1090.2 L932.7,1089.2 L934.0,1088.3 L935.4,1087.4 L936.7,1086.5 L938.1,1085.6 L939.4,1084.8 L940.7,1084.0 L942.1,1083.2 L943.4,1082.5 L944.8,1081.8 L946.1,1081.1 L947.5,1080.4 L948.8,1079.7 L950.1,1079.1 L951.5,1078.5 L952.8,1077.9 L954.2,1077.4 L955.5,1076.9 L956.8,1076.4 L958.2,1075.9 L959.5,1075.5 L960.9,1075.1 L962.2,1074.7 L963.5,1074.3 L964.9,1074.0 L966.2,1073.7 L967.6,1073.4 L968.9,1073.1 L970.3,1072.9 L971.6,1072.7 L972.9,1072.5 L974.3,1072.3 L975.6,1072.2 L977.0,1072.1 L978.3,1072.0 L979.6,1072.0 L981.0,1071.9 L982.3,1071.9 L983.7,1072.0 L985.0,1072.0 L986.3,1072.1 L987.7,1072.2 L989.0,1072.3 L990.4,1072.5 L991.7,1072.7 L993.1,1072.9 L994.4,1073.1 L995.7,1073.4 L997.1,1073.6 L998.4,1073.9 L999.8,1074.3 L1001.1,1074.6 L1002.4,1075.0 L1003.8,1075.4 L1005.1,1075.9 L1006.5,1076.3 L1007.8,1076.8 L1009.2,1077.4 L1010.5,1077.9 L1011.8,1078.5 L1013.2,1079.1 L1014.5,1079.7 L1015.9,1080.3 L1017.2,1081.0 L1018.5,1081.7 L1019.9,1082.4 L1021.2,1083.2 L1022.6,1084.0 L1023.9,1084.8 L1025.2,1085.6 L1026.6,1086.4 L1027.9,1087.3 L1029.3,1088.2 L1030.6,1089.2 L1032.0,1090.1 L1033.3,1091.1 L1034.6,1092.1 L1036.0,1093.2 L1037.3,1094.2 L1038.7,1095.3 L1040.0,1096.4 L1041.3,1097.5 L1042.7,1098.7 L1044.0,1099.8 L1045.4,1101.0 L1046.7,1102.2 L1048.0,1103.4 L1049.4,1104.7 L1050.7,1106.0 L1052.1,1107.2 L1053.4,1108.5 L1054.8,1109.8 L1056.1,1111.2 L1057.4,1112.5 L1058.8,1113.9 L1060.1,1115.3 L1061.5,1116.7 L1062.8,1118.1 L1064.1,1119.5 L1065.5,1120.9 L1066.8,1122.3 L1068.2,1123.8 L1069.5,1125.3 L1070.8,1126.7 L1072.2,1128.2 L1073.5,1129.7 L1074.9,1131.2 L1076.2,1132.7 L1077.6,1134.2 L1078.9,1135.7 L1080.2,1137.3 L1081.6,1138.8 L1082.9,1140.3 L1084.3,1141.9 L1085.6,1143.4 L1086.9,1145.0 L1088.3,1146.6 L1089.6,1148.1 L1091.0,1149.7 L1092.3,1151.2 L1093.6,1152.8 L1095.0,1154.4 L1096.3,1155.9 L1097.7,1157.5 L1099.0,1159.1 L1100.4,1160.6 L1101.7,1162.2 L1103.0,1163.7 L1104.4,1165.3 L1105.7,1166.8 L1107.1,1168.4 L1108.4,1169.9 L1109.7,1171.4 L1111.1,1173.0 L1112.4,1174.5 L1113.8,1176.0 L1115.1,1177.5 L1116.4,1179.0 L1117.8,1180.5 L1119.1,1182.0 L1120.5,1183.5 L1121.8,1184.9 L1123.2,1186.4 L1124.5,1187.8 L1125.8,1189.2 L1127.2,1190.7 L1128.5,1192.1 L1129.9,1193.5 L1131.2,1194.8 L1132.5,1196.2 L1133.9,1197.5 L1135.2,1198.9 L1136.6,1200.2 L1137.9,1201.5 L1139.2,1202.8 L1140.6,1204.0 L1141.9,1205.3 L1143.3,1206.5 L1144.6,1207.7 L1146.0,1208.9 L1147.3,1210.0 L1148.6,1211.2 L1150.0,1212.3 L1151.3,1213.4 L1152.7,1214.5 L1154.0,1215.6 L1155.3,1216.6 L1156.7,1217.6 L1158.0,1218.6 L1159.4,1219.5 L1160.7,1220.5 L1162.0,1221.4 L1163.4,1222.3 L1164.7,1223.1 L1166.1,1223.9 L1167.4,1224.7 L1168.8,1225.5 L1170.1,1226.2 L1171.4,1227.0 L1172.8,1227.7 L1174.1,1228.3 L1175.5,1229.0 L1176.8,1229.6 L1178.1,1230.2 L1179.5,1230.8 L1180.8,1231.3 L1182.2,1231.8 L1183.5,1232.4 L1184.8,1232.8 L1186.2,1233.3 L1187.5,1233.8 L1188.9,1234.2 L1190.2,1234.6 L1191.6,1235.0 L1192.9,1235.4 L1194.2,1235.7 L1195.6,1236.1 L1196.9,1236.4 L1198.3,1236.7 L1199.6,1237.0 L1200.9,1237.2 L1202.3,1237.5 L1203.6,1237.8 L1205.0,1238.0 L1206.3,1238.2 L1207.7,1238.4 L1209.0,1238.6 L1210.3,1238.8 L1211.7,1238.9 L1213.0,1239.1 L1214.4,1239.2 L1215.7,1239.4 L1217.0,1239.5 L1218.4,1239.6 L1219.7,1239.7 L1221.1,1239.8 L1222.4,1239.9 L1223.7,1240.0 L1225.1,1240.1 L1226.4,1240.1 L1227.8,1240.2 L1229.1,1240.3 L1230.5,1240.3 L1231.8,1240.4 L1233.1,1240.4 L1234.5,1240.4 L1235.8,1240.5 L1237.2,1240.5 L1238.5,1240.5 L1239.8,1240.6 L1241.2,1240.6 L1242.5,1240.6 L1243.9,1240.6 L1245.2,1240.7 L1246.5,1240.7 L1247.9,1240.7 L1249.2,1240.7 L1250.6,1240.8 L1251.9,1240.8 L1253.3,1240.8 L1254.6,1240.9 L1255.9,1240.9 L1257.3,1240.9 L1258.6,1241.0 L1260.0,1241.0 L1261.3,1241.1 L1262.6,1241.2 L1264.0,1241.2 L1265.3,1241.3 L1266.7,1241.4 L1268.0,1241.5 L1269.3,1241.6 L1270.7,1241.7 L1272.0,1241.8 L1273.4,1241.9 L1274.7,1242.1 L1276.1,1242.2 L1277.4,1242.4 L1278.7,1242.5 L1280.1,1242.7 L1281.4,1242.9 L1282.8,1243.1 L1284.1,1243.3 L1285.4,1243.6 L1286.8,1243.8 L1288.1,1244.1 L1289.5,1244.3 L1290.8,1244.6 L1292.1,1244.9 L1293.5,1245.3 L1294.8,1245.6 L1296.2,1246.0 L1297.5,1246.3 L1298.9,1246.7 L1300.2,1247.2 L1301.5,1247.6 L1302.9,1248.0 L1304.2,1248.5 L1305.6,1249.0 L1306.9,1249.5 L1308.2,1250.0 L1309.6,1250.5 L1310.9,1251.0 L1312.3,1251.6 L1313.6,1252.2 L1314.9,1252.7 L1316.3,1253.3 L1317.6,1253.9 L1319.0,1254.5 L1320.3,1255.2 L1321.7,1255.8 L1323.0,1256.5 L1324.3,1257.1 L1325.7,1257.8 L1327.0,1258.4 L1328.4,1259.1 L1329.7,1259.8 L1331.0,1260.5 L1332.4,1261.2 L1333.7,1261.9 L1335.1,1262.6 L1336.4,1263.3 L1337.7,1264.1 L1339.1,1264.8 L1340.4,1265.5 L1341.8,1266.2 L1343.1,1267.0 L1344.5,1267.7 L1345.8,1268.4 L1347.1,1269.2 L1348.5,1269.9 L1349.8,1270.7 L1351.2,1271.4 L1352.5,1272.1 L1353.8,1272.9 L1355.2,1273.6 L1356.5,1274.3 L1357.9,1275.1 L1359.2,1275.8 L1360.5,1276.5 L1361.9,1277.2 L1363.2,1277.9 L1364.6,1278.6 L1365.9,1279.3 L1367.3,1280.0 L1368.6,1280.7 L1369.9,1281.4 L1371.3,1282.1 L1372.6,1282.7 L1374.0,1283.4 L1375.3,1284.1 L1376.6,1284.7 L1378.0,1285.3 L1379.3,1285.9 L1380.7,1286.5 L1382.0,1287.1 L1383.4,1287.7 L1384.7,1288.3 L1386.0,1288.8 L1387.4,1289.4 L1388.7,1289.9 L1390.1,1290.4 L1391.4,1290.9 L1392.7,1291.4 L1394.1,1291.9 L1395.4,1292.3 L1396.8,1292.8 L1398.1,1293.2 L1399.4,1293.6 L1400.8,1293.9 L1402.1,1294.3 L1403.5,1294.6 L1404.8,1295.0 L1406.2,1295.3 L1407.5,1295.5 L1408.8,1295.8 L1410.2,1296.0 L1411.5,1296.2 L1412.9,1296.4 L1414.2,1296.6 L1415.5,1296.8 L1416.9,1296.9 L1418.2,1297.0 L1419.6,1297.0 L1420.9,1297.1 L1422.2,1297.1 L1423.6,1297.1 L1424.9,1297.0 L1426.3,1297.0 L1427.6,1296.9 L1429.0,1296.8 L1430.3,1296.6 L1431.6,1296.4 L1433.0,1296.2 L1434.3,1296.0 L1435.7,1295.7 L1437.0,1295.4 L1438.3,1295.1 L1439.7,1294.7 L1441.0,1294.4 L1442.4,1293.9 L1443.7,1293.5 L1445.0,1293.1 L1446.4,1292.6 L1447.7,1292.1 L1449.1,1291.5 L1450.4,1291.0 L1451.8,1290.4 L1453.1,1289.8 L1454.4,1289.2 L1455.8,1288.6 L1457.1,1287.9 L1458.5,1287.3 L1459.8,1286.6 L1461.1,1285.9 L1462.5,1285.2 L1463.8,1284.4 L1465.2,1283.7 L1466.5,1282.9 L1467.8,1282.1 L1469.2,1281.3 L1470.5,1280.5 L1471.9,1279.7 L1473.2,1278.9 L1474.6,1278.0 L1475.9,1277.2 L1477.2,1276.3 L1478.6,1275.5 L1479.9,1274.6 L1481.3,1273.7 L1482.6,1272.8 L1483.9,1271.9 L1485.3,1271.0 L1486.6,1270.1 L1488.0,1269.2 L1489.3,1268.3 L1490.6,1267.4 L1492.0,1266.4 L1493.3,1265.5 L1494.7,1264.6 L1496.0,1263.7 L1497.4,1262.7 L1498.7,1261.8 L1500.0,1260.9 L1501.4,1260.0 L1502.7,1259.1 L1504.1,1258.1 L1505.4,1257.2 L1506.7,1256.3 L1508.1,1255.4 L1509.4,1254.5 L1510.8,1253.6 L1512.1,1252.8 L1513.4,1251.9 L1514.8,1251.0 L1516.1,1250.2 L1517.5,1249.3 L1518.8,1248.5 L1520.2,1247.7 L1521.5,1246.8 L1522.8,1246.0 L1524.2,1245.3 L1525.5,1244.5 L1526.9,1243.7 L1528.2,1243.0 L1529.5,1242.2 L1530.9,1241.5 L1532.2,1240.8 L1533.6,1240.2 L1534.9,1239.5 L1536.2,1238.9 L1537.6,1238.2 L1538.9,1237.6 L1540.3,1237.0 L1541.6,1236.5 L1543.0,1235.9 L1544.3,1235.4 L1545.6,1234.9 L1547.0,1234.5 L1548.3,1234.0 L1549.7,1233.6 L1551.0,1233.2 L1552.3,1232.8 L1553.7,1232.5 L1555.0,1232.2 L1556.4,1231.9 L1557.7,1231.6 L1559.1,1231.4 L1560.4,1231.2 L1561.7,1231.0 L1563.1,1230.9 L1564.4,1230.8 L1565.8,1230.7 L1567.1,1230.7 L1568.4,1230.7 L1569.8,1230.7 L1571.1,1230.8 L1572.5,1230.9 L1573.8,1231.0 L1575.1,1231.1 L1576.5,1231.3 L1577.8,1231.5 L1579.2,1231.8 L1580.5,1232.0 L1581.9,1232.3 L1583.2,1232.7 L1584.5,1233.0 L1585.9,1233.4 L1587.2,1233.8 L1588.6,1234.2 L1589.9,1234.7 L1591.2,1235.2 L1592.6,1235.7 L1593.9,1236.2 L1595.3,1236.8 L1596.6,1237.3 L1597.9,1237.9 L1599.3,1238.5 L1600.6,1239.2 L1602.0,1239.8 L1603.3,1240.5 L1604.7,1241.2 L1606.0,1241.9 L1607.3,1242.7 L1608.7,1243.4 L1610.0,1244.2 L1611.4,1245.0 L1612.7,1245.8 L1614.0,1246.6 L1615.4,1247.5 L1616.7,1248.3 L1618.1,1249.2 L1619.4,1250.1 L1620.7,1250.9 L1622.1,1251.9 L1623.4,1252.8 L1624.8,1253.7 L1626.1,1254.7 L1627.5,1255.6 L1628.8,1256.6 L1630.1,1257.6 L1631.5,1258.5 L1632.8,1259.5 L1634.2,1260.5 L1635.5,1261.5 L1636.8,1262.6 L1638.2,1263.6 L1639.5,1264.6 L1640.9,1265.7 L1642.2,1266.7 L1643.5,1267.8 L1644.9,1268.8 L1646.2,1269.9 L1647.6,1270.9 L1648.9,1272.0 L1650.3,1273.1 L1651.6,1274.1 L1652.9,1275.2 L1654.3,1276.3 L1655.6,1277.4 L1657.0,1278.4 L1658.3,1279.5 L1659.6,1280.6 L1661.0,1281.6 L1662.3,1282.7 L1663.7,1283.8 L1665.0,1284.8 L1666.3,1285.9 L1667.7,1287.0 L1669.0,1288.0 L1670.4,1289.1 L1671.7,1290.1 L1673.1,1291.1 L1674.4,1292.2 L1675.7,1293.2 L1677.1,1294.2 L1678.4,1295.2 L1679.8,1296.2 L1681.1,1297.2 L1682.4,1298.2 L1683.8,1299.2 L1685.1,1300.1 L1686.5,1301.1 L1687.8,1302.0 L1689.1,1302.9 L1690.5,1303.9 L1691.8,1304.8 L1693.2,1305.7 L1694.5,1306.5 L1695.9,1307.4 L1697.2,1308.2 L1698.5,1309.1 L1699.9,1309.9 L1701.2,1310.7 L1702.6,1311.5 L1703.9,1312.2 L1705.2,1313.0 L1706.6,1313.7 L1707.9,1314.4 L1709.3,1315.1 L1710.6,1315.8 L1711.9,1316.5 L1713.3,1317.2 L1714.6,1317.8 L1716.0,1318.4 L1717.3,1319.0 L1718.7,1319.6 L1720.0,1320.2 L1721.3,1320.8 L1722.7,1321.4 L1724.0,1321.9 L1725.4,1322.4 L1726.7,1323.0 L1728.0,1323.5 L1729.4,1324.0 L1730.7,1324.4 L1732.1,1324.9 L1733.4,1325.4 L1734.7,1325.8 L1736.1,1326.2 L1737.4,1326.7 L1738.8,1327.1 L1740.1,1327.5 L1741.5,1327.8 L1742.8,1328.2 L1744.1,1328.6 L1745.5,1328.9 L1746.8,1329.3 L1748.2,1329.6 L1749.5,1329.9 L1750.8,1330.2 L1752.2,1330.5 L1753.5,1330.8 L1754.9,1331.1 L1756.2,1331.4 L1757.6,1331.6 L1758.9,1331.9 L1760.2,1332.1 L1761.6,1332.3 L1762.9,1332.6 L1764.3,1332.8 L1765.6,1333.0 L1766.9,1333.2 L1768.3,1333.4 L1769.6,1333.5 L1771.0,1333.7 L1772.3,1333.9 L1773.6,1334.0 L1775.0,1334.2 L1776.3,1334.3 L1777.7,1334.5 L1779.0,1334.6 L1780.4,1334.7 L1781.7,1334.8 L1783.0,1334.9 L1784.4,1335.0 L1785.7,1335.1 L1787.1,1335.2 L1788.4,1335.3 L1789.7,1335.4 L1791.1,1335.5 L1792.4,1335.5 L1793.8,1335.6 L1795.1,1335.7 L1796.4,1335.7 L1797.8,1335.8 L1799.1,1335.8 L1800.5,1335.9 L1801.8,1335.9 L1803.2,1335.9 L1804.5,1336.0 L1805.8,1336.0 L1807.2,1336.0 L1808.5,1336.0 L1809.9,1336.1 L1811.2,1336.1 L1812.5,1336.1 L1813.9,1336.1 L1815.2,1336.1 L1816.6,1336.1 L1817.9,1336.1 L1819.2,1336.1 L1820.6,1336.1 L1821.9,1336.1 L1823.3,1336.1 L1824.6,1336.1 L1826.0,1336.1 L1827.3,1336.1 L1828.6,1336.0 L1830.0,1336.0 L1831.3,1336.0 L1832.7,1336.0 L1834.0,1336.0" fill="none" stroke="#f00" stroke-width="4" stroke-linejoin="round"/><g fill="#f00"><circle cx="360.0" cy="888.1" r="16.0"/><circle cx="494.0" cy="450.0" r="16.0"/><circle cx="628.0" cy="115.8" r="16.0"/><circle cx="762.0" cy="1046.5" r="16.0"/><circle cx="896.0" cy="1124.7" r="16.0"/><circle cx="1030.0" cy="1088.7" r="16.0"/><circle cx="1164.0" cy="1222.6" r="16.0"/><circle cx="1298.0" cy="1246.5" r="16.0"/><circle cx="1432.0" cy="1296.4" r="16.0"/><circle cx="1566.0" cy="1230.7" r="16.0"/><circle cx="1700.0" cy="1310.0" r="16.0"/><circle cx="1834.0" cy="1336.0" r="16.0"/></g>
<path d="M360.0,913.0 L361.3,909.7 L362.7,906.4 L364.0,903.1 L365.4,899.7 L366.7,896.4 L368.0,893.1 L369.4,889.8 L370.7,886.5 L372.1,883.1 L373.4,879.8 L374.8,876.4 L376.1,873.1 L377.4,869.7 L378.8,866.4 L380.1,863.0 L381.5,859.6 L382.8,856.3 L384.1,852.9 L385.5,849.5 L386.8,846.1 L388.2,842.6 L389.5,839.2 L390.8,835.8 L392.2,832.3 L393.5,828.9 L394.9,825.4 L396.2,821.9 L397.6,818.4 L398.9,814.9 L400.2,811.4 L401.6,807.8 L402.9,804.3 L404.3,800.7 L405.6,797.1 L406.9,793.5 L408.3,789.9 L409.6,786.2 L411.0,782.6 L412.3,778.9 L413.6,775.2 L415.0,771.5 L416.3,767.8 L417.7,764.0 L419.0,760.2 L420.4,756.4 L421.7,752.6 L423.0,748.8 L424.4,744.9 L425.7,741.0 L427.1,737.1 L428.4,733.2 L429.7,729.2 L431.1,725.2 L432.4,721.2 L433.8,717.2 L435.1,713.1 L436.4,709.0 L437.8,704.9 L439.1,700.7 L440.5,696.5 L441.8,692.3 L443.2,688.1 L444.5,683.8 L445.8,679.5 L447.2,675.2 L448.5,670.8 L449.9,666.4 L451.2,662.0 L452.5,657.6 L453.9,653.1 L455.2,648.5 L456.6,644.0 L457.9,639.4 L459.3,634.7 L460.6,630.1 L461.9,625.4 L463.3,620.6 L464.6,615.8 L466.0,611.0 L467.3,606.2 L468.6,601.3 L470.0,596.3 L471.3,591.3 L472.7,586.3 L474.0,581.3 L475.3,576.2 L476.7,571.0 L478.0,565.8 L479.4,560.6 L480.7,555.3 L482.1,550.0 L483.4,544.7 L484.7,539.3 L486.1,533.8 L487.4,528.3 L488.8,522.8 L490.1,517.2 L491.4,511.6 L492.8,505.9 L494.1,500.1 L495.5,494.4 L496.8,488.5 L498.1,482.7 L499.5,476.8 L500.8,470.8 L502.2,464.8 L503.5,458.8 L504.9,452.8 L506.2,446.7 L507.5,440.6 L508.9,434.5 L510.2,428.4 L511.6,422.2 L512.9,416.0 L514.2,409.9 L515.6,403.7 L516.9,397.5 L518.3,391.3 L519.6,385.1 L520.9,379.0 L522.3,372.8 L523.6,366.6 L525.0,360.5 L526.3,354.3 L527.7,348.2 L529.0,342.1 L530.3,336.0 L531.7,330.0 L533.0,323.9 L534.4,317.9 L535.7,312.0 L537.0,306.0 L538.4,300.1 L539.7,294.3 L541.1,288.5 L542.4,282.7 L543.7,277.0 L545.1,271.4 L546.4,265.8 L547.8,260.3 L549.1,254.8 L550.5,249.4 L551.8,244.0 L553.1,238.7 L554.5,233.5 L555.8,228.4 L557.2,223.3 L558.5,218.4 L559.8,213.5 L561.2,208.7 L562.5,204.0 L563.9,199.3 L565.2,194.8 L566.5,190.4 L567.9,186.0 L569.2,181.8 L570.6,177.7 L571.9,173.6 L573.3,169.7 L574.6,165.9 L575.9,162.3 L577.3,158.7 L578.6,155.2 L580.0,151.9 L581.3,148.7 L582.6,145.7 L584.0,142.7 L585.3,139.9 L586.7,137.3 L588.0,134.8 L589.3,132.4 L590.7,130.2 L592.0,128.1 L593.4,126.1 L594.7,124.4 L596.1,122.7 L597.4,121.3 L598.7,120.0 L600.1,118.9 L601.4,117.9 L602.8,117.1 L604.1,116.5 L605.4,116.0 L606.8,115.8 L608.1,115.7 L609.5,115.8 L610.8,116.1 L612.1,116.5 L613.5,117.2 L614.8,118.1 L616.2,119.1 L617.5,120.4 L618.9,121.9 L620.2,123.5 L621.5,125.4 L622.9,127.5 L624.2,129.8 L625.6,132.3 L626.9,135.1 L628.2,138.0 L629.6,141.2 L630.9,144.6 L632.3,148.3 L633.6,152.1 L634.9,156.1 L636.3,160.4 L637.6,164.8 L639.0,169.5 L640.3,174.3 L641.7,179.4 L643.0,184.6 L644.3,190.0 L645.7,195.6 L647.0,201.4 L648.4,207.3 L649.7,213.4 L651.0,219.7 L652.4,226.1 L653.7,232.7 L655.1,239.5 L656.4,246.4 L657.8,253.4 L659.1,260.6 L660.4,267.9 L661.8,275.4 L663.1,283.0 L664.5,290.7 L665.8,298.5 L667.1,306.5 L668.5,314.6 L669.8,322.8 L671.2,331.1 L672.5,339.5 L673.8,348.0 L675.2,356.7 L676.5,365.4 L677.9,374.2 L679.2,383.1 L680.6,392.1 L681.9,401.1 L683.2,410.3 L684.6,419.5 L685.9,428.7 L687.3,438.1 L688.6,447.5 L689.9,457.0 L691.3,466.5 L692.6,476.1 L694.0,485.7 L695.3,495.3 L696.6,505.0 L698.0,514.8 L699.3,524.6 L700.7,534.4 L702.0,544.2 L703.4,554.0 L704.7,563.9 L706.0,573.8 L707.4,583.7 L708.7,593.6 L710.1,603.5 L711.4,613.4 L712.7,623.3 L714.1,633.2 L715.4,643.1 L716.8,653.0 L718.1,662.8 L719.4,672.6 L720.8,682.4 L722.1,692.2 L723.5,702.0 L724.8,711.7 L726.2,721.3 L727.5,730.9 L728.8,740.5 L730.2,750.0 L731.5,759.5 L732.9,768.9 L734.2,778.2 L735.5,787.5 L736.9,796.7 L738.2,805.9 L739.6,814.9 L740.9,823.9 L742.2,832.8 L743.6,841.6 L744.9,850.3 L746.3,858.9 L747.6,867.4 L749.0,875.8 L750.3,884.1 L751.6,892.3 L753.0,900.4 L754.3,908.4 L755.7,916.2 L757.0,923.9 L758.3,931.5 L759.7,939.0 L761.0,946.3 L762.4,953.5 L763.7,960.5 L765.0,967.4 L766.4,974.2 L767.7,980.8 L769.1,987.3 L770.4,993.6 L771.8,999.8 L773.1,1005.9 L774.4,1011.9 L775.8,1017.7 L777.1,1023.4 L778.5,1029.0 L779.8,1034.4 L781.1,1039.7 L782.5,1044.9 L783.8,1050.0 L785.2,1054.9 L786.5,1059.8 L787.8,1064.5 L789.2,1069.1 L790.5,1073.5 L791.9,1077.9 L793.2,1082.2 L794.6,1086.3 L795.9,1090.4 L797.2,1094.3 L798.6,1098.1 L799.9,1101.8 L801.3,1105.4 L802.6,1108.9 L803.9,1112.3 L805.3,1115.6 L806.6,1118.8 L808.0,1122.0 L809.3,1125.0 L810.6,1127.9 L812.0,1130.7 L813.3,1133.4 L814.7,1136.1 L816.0,1138.6 L817.4,1141.1 L818.7,1143.5 L820.0,1145.8 L821.4,1148.0 L822.7,1150.1 L824.1,1152.2 L825.4,1154.1 L826.7,1156.0 L828.1,1157.8 L829.4,1159.5 L830.8,1161.2 L832.1,1162.8 L833.5,1164.3 L834.8,1165.7 L836.1,1167.1 L837.5,1168.4 L838.8,1169.7 L840.2,1170.8 L841.5,1172.0 L842.8,1173.0 L844.2,1174.0 L845.5,1174.9 L846.9,1175.8 L848.2,1176.6 L849.5,1177.4 L850.9,1178.1 L852.2,1178.7 L853.6,1179.3 L854.9,1179.8 L856.3,1180.3 L857.6,1180.8 L858.9,1181.2 L860.3,1181.6 L861.6,1181.9 L863.0,1182.1 L864.3,1182.4 L865.6,1182.6 L867.0,1182.7 L868.3,1182.8 L869.7,1182.9 L871.0,1183.0 L872.3,1183.0 L873.7,1183.0 L875.0,1182.9 L876.4,1182.9 L877.7,1182.8 L879.1,1182.6 L880.4,1182.5 L881.7,1182.3 L883.1,1182.1 L884.4,1181.9 L885.8,1181.7 L887.1,1181.4 L888.4,1181.1 L889.8,1180.8 L891.1,1180.5 L892.5,1180.2 L893.8,1179.9 L895.1,1179.6 L896.5,1179.2 L897.8,1178.9 L899.2,1178.5 L900.5,1178.2 L901.9,1177.8 L903.2,1177.4 L904.5,1177.0 L905.9,1176.6 L907.2,1176.2 L908.6,1175.8 L909.9,1175.4 L911.2,1175.0 L912.6,1174.6 L913.9,1174.1 L915.3,1173.7 L916.6,1173.2 L917.9,1172.8 L919.3,1172.3 L920.6,1171.9 L922.0,1171.4 L923.3,1170.9 L924.7,1170.5 L926.0,1170.0 L927.3,1169.5 L928.7,1169.0 L930.0,1168.5 L931.4,1168.0 L932.7,1167.5 L934.0,1167.0 L935.4,1166.4 L936.7,1165.9 L938.1,1165.4 L939.4,1164.9 L940.7,1164.3 L942.1,1163.8 L943.4,1163.2 L944.8,1162.7 L946.1,1162.1 L947.5,1161.6 L948.8,1161.0 L950.1,1160.5 L951.5,1159.9 L952.8,1159.3 L954.2,1158.8 L955.5,1158.2 L956.8,1157.6 L958.2,1157.0 L959.5,1156.5 L960.9,1155.9 L962.2,1155.3 L963.5,1154.7 L964.9,1154.1 L966.2,1153.5 L967.6,1152.9 L968.9,1152.3 L970.3,1151.7 L971.6,1151.1 L972.9,1150.5 L974.3,1149.9 L975.6,1149.3 L977.0,1148.7 L978.3,1148.1 L979.6,1147.5 L981.0,1146.9 L982.3,1146.3 L983.7,1145.7 L985.0,1145.1 L986.3,1144.5 L987.7,1143.9 L989.0,1143.2 L990.4,1142.6 L991.7,1142.0 L993.1,1141.4 L994.4,1140.8 L995.7,1140.2 L997.1,1139.6 L998.4,1139.0 L999.8,1138.4 L1001.1,1137.8 L1002.4,1137.1 L1003.8,1136.5 L1005.1,1135.9 L1006.5,1135.3 L1007.8,1134.7 L1009.2,1134.1 L1010.5,1133.5 L1011.8,1132.9 L1013.2,1132.3 L1014.5,1131.7 L1015.9,1131.2 L1017.2,1130.6 L1018.5,1130.0 L1019.9,1129.4 L1021.2,1128.8 L1022.6,1128.2 L1023.9,1127.6 L1025.2,1127.1 L1026.6,1126.5 L1027.9,1125.9 L1029.3,1125.4 L1030.6,1124.8 L1032.0,1124.2 L1033.3,1123.7 L1034.6,1123.1 L1036.0,1122.6 L1037.3,1122.0 L1038.7,1121.5 L1040.0,1121.0 L1041.3,1120.4 L1042.7,1119.9 L1044.0,1119.4 L1045.4,1118.9 L1046.7,1118.3 L1048.0,1117.8 L1049.4,1117.3 L1050.7,1116.8 L1052.1,1116.3 L1053.4,1115.8 L1054.8,1115.4 L1056.1,1114.9 L1057.4,1114.4 L1058.8,1113.9 L1060.1,1113.5 L1061.5,1113.0 L1062.8,1112.6 L1064.1,1112.1 L1065.5,1111.7 L1066.8,1111.3 L1068.2,1110.9 L1069.5,1110.5 L1070.8,1110.1 L1072.2,1109.7 L1073.5,1109.3 L1074.9,1108.9 L1076.2,1108.5 L1077.6,1108.2 L1078.9,1107.8 L1080.2,1107.4 L1081.6,1107.1 L1082.9,1106.8 L1084.3,1106.5 L1085.6,1106.1 L1086.9,1105.8 L1088.3,1105.5 L1089.6,1105.3 L1091.0,1105.0 L1092.3,1104.7 L1093.6,1104.5 L1095.0,1104.2 L1096.3,1104.0 L1097.7,1103.7 L1099.0,1103.5 L1100.4,1103.3 L1101.7,1103.1 L1103.0,1102.9 L1104.4,1102.8 L1105.7,1102.6 L1107.1,1102.4 L1108.4,1102.3 L1109.7,1102.2 L1111.1,1102.1 L1112.4,1101.9 L1113.8,1101.9 L1115.1,1101.8 L1116.4,1101.7 L1117.8,1101.6 L1119.1,1101.6 L1120.5,1101.6 L1121.8,1101.5 L1123.2,1101.5 L1124.5,1101.5 L1125.8,1101.6 L1127.2,1101.6 L1128.5,1101.6 L1129.9,1101.7 L1131.2,1101.8 L1132.5,1101.9 L1133.9,1102.0 L1135.2,1102.1 L1136.6,1102.2 L1137.9,1102.3 L1139.2,1102.5 L1140.6,1102.7 L1141.9,1102.9 L1143.3,1103.1 L1144.6,1103.3 L1146.0,1103.5 L1147.3,1103.8 L1148.6,1104.0 L1150.0,1104.3 L1151.3,1104.6 L1152.7,1104.9 L1154.0,1105.2 L1155.3,1105.6 L1156.7,1105.9 L1158.0,1106.3 L1159.4,1106.7 L1160.7,1107.1 L1162.0,1107.5 L1163.4,1108.0 L1164.7,1108.4 L1166.1,1108.9 L1167.4,1109.4 L1168.8,1109.9 L1170.1,1110.4 L1171.4,1111.0 L1172.8,1111.5 L1174.1,1112.1 L1175.5,1112.7 L1176.8,1113.3 L1178.1,1113.9 L1179.5,1114.6 L1180.8,1115.2 L1182.2,1115.9 L1183.5,1116.6 L1184.8,1117.3 L1186.2,1118.0 L1187.5,1118.7 L1188.9,1119.4 L1190.2,1120.2 L1191.6,1121.0 L1192.9,1121.7 L1194.2,1122.5 L1195.6,1123.3 L1196.9,1124.1 L1198.3,1125.0 L1199.6,1125.8 L1200.9,1126.6 L1202.3,1127.5 L1203.6,1128.4 L1205.0,1129.3 L1206.3,1130.1 L1207.7,1131.0 L1209.0,1132.0 L1210.3,1132.9 L1211.7,1133.8 L1213.0,1134.8 L1214.4,1135.7 L1215.7,1136.7 L1217.0,1137.7 L1218.4,1138.6 L1219.7,1139.6 L1221.1,1140.6 L1222.4,1141.6 L1223.7,1142.6 L1225.1,1143.7 L1226.4,1144.7 L1227.8,1145.7 L1229.1,1146.8 L1230.5,1147.8 L1231.8,1148.9 L1233.1,1149.9 L1234.5,1151.0 L1235.8,1152.1 L1237.2,1153.2 L1238.5,1154.3 L1239.8,1155.4 L1241.2,1156.5 L1242.5,1157.6 L1243.9,1158.7 L1245.2,1159.8 L1246.5,1160.9 L1247.9,1162.0 L1249.2,1163.2 L1250.6,1164.3 L1251.9,1165.4 L1253.3,1166.6 L1254.6,1167.7 L1255.9,1168.8 L1257.3,1170.0 L1258.6,1171.1 L1260.0,1172.3 L1261.3,1173.4 L1262.6,1174.6 L1264.0,1175.8 L1265.3,1176.9 L1266.7,1178.1 L1268.0,1179.2 L1269.3,1180.4 L1270.7,1181.6 L1272.0,1182.7 L1273.4,1183.9 L1274.7,1185.0 L1276.1,1186.2 L1277.4,1187.4 L1278.7,1188.5 L1280.1,1189.7 L1281.4,1190.9 L1282.8,1192.0 L1284.1,1193.2 L1285.4,1194.3 L1286.8,1195.5 L1288.1,1196.6 L1289.5,1197.8 L1290.8,1198.9 L1292.1,1200.1 L1293.5,1201.2 L1294.8,1202.4 L1296.2,1203.5 L1297.5,1204.6 L1298.9,1205.7 L1300.2,1206.9 L1301.5,1208.0 L1302.9,1209.1 L1304.2,1210.2 L1305.6,1211.3 L1306.9,1212.4 L1308.2,1213.5 L1309.6,1214.6 L1310.9,1215.7 L1312.3,1216.8 L1313.6,1217.9 L1314.9,1219.0 L1316.3,1220.0 L1317.6,1221.1 L1319.0,1222.2 L1320.3,1223.2 L1321.7,1224.3 L1323.0,1225.3 L1324.3,1226.4 L1325.7,1227.4 L1327.0,1228.4 L1328.4,1229.5 L1329.7,1230.5 L1331.0,1231.5 L1332.4,1232.5 L1333.7,1233.5 L1335.1,1234.5 L1336.4,1235.5 L1337.7,1236.5 L1339.1,1237.5 L1340.4,1238.5 L1341.8,1239.5 L1343.1,1240.4 L1344.5,1241.4 L1345.8,1242.3 L1347.1,1243.3 L1348.5,1244.2 L1349.8,1245.2 L1351.2,1246.1 L1352.5,1247.0 L1353.8,1248.0 L1355.2,1248.9 L1356.5,1249.8 L1357.9,1250.7 L1359.2,1251.6 L1360.5,1252.5 L1361.9,1253.4 L1363.2,1254.2 L1364.6,1255.1 L1365.9,1256.0 L1367.3,1256.8 L1368.6,1257.7 L1369.9,1258.5 L1371.3,1259.4 L1372.6,1260.2 L1374.0,1261.0 L1375.3,1261.8 L1376.6,1262.6 L1378.0,1263.4 L1379.3,1264.2 L1380.7,1265.0 L1382.0,1265.8 L1383.4,1266.6 L1384.7,1267.3 L1386.0,1268.1 L1387.4,1268.8 L1388.7,1269.6 L1390.1,1270.3 L1391.4,1271.0 L1392.7,1271.7 L1394.1,1272.5 L1395.4,1273.2 L1396.8,1273.8 L1398.1,1274.5 L1399.4,1275.2 L1400.8,1275.9 L1402.1,1276.5 L1403.5,1277.2 L1404.8,1277.8 L1406.2,1278.5 L1407.5,1279.1 L1408.8,1279.7 L1410.2,1280.3 L1411.5,1280.9 L1412.9,1281.5 L1414.2,1282.1 L1415.5,1282.7 L1416.9,1283.3 L1418.2,1283.8 L1419.6,1284.4 L1420.9,1284.9 L1422.2,1285.4 L1423.6,1286.0 L1424.9,1286.5 L1426.3,1287.0 L1427.6,1287.5 L1429.0,1288.0 L1430.3,1288.4 L1431.6,1288.9 L1433.0,1289.4 L1434.3,1289.8 L1435.7,1290.3 L1437.0,1290.7 L1438.3,1291.1 L1439.7,1291.5 L1441.0,1291.9 L1442.4,1292.3 L1443.7,1292.7 L1445.0,1293.1 L1446.4,1293.5 L1447.7,1293.8 L1449.1,1294.2 L1450.4,1294.5 L1451.8,1294.8 L1453.1,1295.2 L1454.4,1295.5 L1455.8,1295.8 L1457.1,1296.1 L1458.5,1296.4 L1459.8,1296.7 L1461.1,1297.0 L1462.5,1297.3 L1463.8,1297.5 L1465.2,1297.8 L1466.5,1298.0 L1467.8,1298.3 L1469.2,1298.5 L1470.5,1298.8 L1471.9,1299.0 L1473.2,1299.2 L1474.6,1299.4 L1475.9,1299.6 L1477.2,1299.9 L1478.6,1300.1 L1479.9,1300.2 L1481.3,1300.4 L1482.6,1300.6 L1483.9,1300.8 L1485.3,1301.0 L1486.6,1301.1 L1488.0,1301.3 L1489.3,1301.5 L1490.6,1301.6 L1492.0,1301.8 L1493.3,1301.9 L1494.7,1302.0 L1496.0,1302.2 L1497.4,1302.3 L1498.7,1302.4 L1500.0,1302.5 L1501.4,1302.7 L1502.7,1302.8 L1504.1,1302.9 L1505.4,1303.0 L1506.7,1303.1 L1508.1,1303.2 L1509.4,1303.3 L1510.8,1303.4 L1512.1,1303.5 L1513.4,1303.6 L1514.8,1303.7 L1516.1,1303.7 L1517.5,1303.8 L1518.8,1303.9 L1520.2,1304.0 L1521.5,1304.0 L1522.8,1304.1 L1524.2,1304.2 L1525.5,1304.2 L1526.9,1304.3 L1528.2,1304.4 L1529.5,1304.4 L1530.9,1304.5 L1532.2,1304.6 L1533.6,1304.6 L1534.9,1304.7 L1536.2,1304.7 L1537.6,1304.8 L1538.9,1304.8 L1540.3,1304.9 L1541.6,1304.9 L1543.0,1305.0 L1544.3,1305.0 L1545.6,1305.1 L1547.0,1305.1 L1548.3,1305.2 L1549.7,1305.2 L1551.0,1305.3 L1552.3,1305.3 L1553.7,1305.4 L1555.0,1305.5 L1556.4,1305.5 L1557.7,1305.6 L1559.1,1305.6 L1560.4,1305.7 L1561.7,1305.7 L1563.1,1305.8 L1564.4,1305.8 L1565.8,1305.9 L1567.1,1306.0 L1568.4,1306.0 L1569.8,1306.1 L1571.1,1306.2 L1572.5,1306.2 L1573.8,1306.3 L1575.1,1306.4 L1576.5,1306.4 L1577.8,1306.5 L1579.2,1306.6 L1580.5,1306.7 L1581.9,1306.8 L1583.2,1306.8 L1584.5,1306.9 L1585.9,1307.0 L1587.2,1307.1 L1588.6,1307.2 L1589.9,1307.3 L1591.2,1307.3 L1592.6,1307.4 L1593.9,1307.5 L1595.3,1307.6 L1596.6,1307.7 L1597.9,1307.8 L1599.3,1307.9 L1600.6,1308.0 L1602.0,1308.1 L1603.3,1308.2 L1604.7,1308.3 L1606.0,1308.4 L1607.3,1308.5 L1608.7,1308.6 L1610.0,1308.7 L1611.4,1308.8 L1612.7,1308.9 L1614.0,1309.0 L1615.4,1309.1 L1616.7,1309.3 L1618.1,1309.4 L1619.4,1309.5 L1620.7,1309.6 L1622.1,1309.7 L1623.4,1309.8 L1624.8,1310.0 L1626.1,1310.1 L1627.5,1310.2 L1628.8,1310.3 L1630.1,1310.4 L1631.5,1310.6 L1632.8,1310.7 L1634.2,1310.8 L1635.5,1310.9 L1636.8,1311.1 L1638.2,1311.2 L1639.5,1311.3 L1640.9,1311.5 L1642.2,1311.6 L1643.5,1311.7 L1644.9,1311.9 L1646.2,1312.0 L1647.6,1312.1 L1648.9,1312.3 L1650.3,1312.4 L1651.6,1312.5 L1652.9,1312.7 L1654.3,1312.8 L1655.6,1313.0 L1657.0,1313.1 L1658.3,1313.2 L1659.6,1313.4 L1661.0,1313.5 L1662.3,1313.7 L1663.7,1313.8 L1665.0,1314.0 L1666.3,1314.1 L1667.7,1314.3 L1669.0,1314.4 L1670.4,1314.6 L1671.7,1314.7 L1673.1,1314.9 L1674.4,1315.0 L1675.7,1315.2 L1677.1,1315.3 L1678.4,1315.5 L1679.8,1315.6 L1681.1,1315.8 L1682.4,1315.9 L1683.8,1316.1 L1685.1,1316.2 L1686.5,1316.4 L1687.8,1316.6 L1689.1,1316.7 L1690.5,1316.9 L1691.8,1317.0 L1693.2,1317.2 L1694.5,1317.4 L1695.9,1317.5 L1697.2,1317.7 L1698.5,1317.8 L1699.9,1318.0 L1701.2,1318.2 L1702.6,1318.3 L1703.9,1318.5 L1705.2,1318.7 L1706.6,1318.8 L1707.9,1319.0 L1709.3,1319.2 L1710.6,1319.3 L1711.9,1319.5 L1713.3,1319.7 L1714.6,1319.8 L1716.0,1320.0 L1717.3,1320.2 L1718.7,1320.3 L1720.0,1320.5 L1721.3,1320.7 L1722.7,1320.9 L1724.0,1321.0 L1725.4,1321.2 L1726.7,1321.4 L1728.0,1321.5 L1729.4,1321.7 L1730.7,1321.9 L1732.1,1322.1 L1733.4,1322.2 L1734.7,1322.4 L1736.1,1322.6 L1737.4,1322.8 L1738.8,1322.9 L1740.1,1323.1 L1741.5,1323.3 L1742.8,1323.5 L1744.1,1323.6 L1745.5,1323.8 L1746.8,1324.0 L1748.2,1324.2 L1749.5,1324.3 L1750.8,1324.5 L1752.2,1324.7 L1753.5,1324.9 L1754.9,1325.1 L1756.2,1325.2 L1757.6,1325.4 L1758.9,1325.6 L1760.2,1325.8 L1761.6,1326.0 L1762.9,1326.1 L1764.3,1326.3 L1765.6,1326.5 L1766.9,1326.7 L1768.3,1326.9 L1769.6,1327.1 L1771.0,1327.2 L1772.3,1327.4 L1773.6,1327.6 L1775.0,1327.8 L1776.3,1328.0 L1777.7,1328.2 L1779.0,1328.3 L1780.4,1328.5 L1781.7,1328.7 L1783.0,1328.9 L1784.4,1329.1 L1785.7,1329.3 L1787.1,1329.4 L1788.4,1329.6 L1789.7,1329.8 L1791.1,1330.0 L1792.4,1330.2 L1793.8,1330.4 L1795.1,1330.6 L1796.4,1330.7 L1797.8,1330.9 L1799.1,1331.1 L1800.5,1331.3 L1801.8,1331.5 L1803.2,1331.7 L1804.5,1331.9 L1805.8,1332.1 L1807.2,1332.2 L1808.5,1332.4 L1809.9,1332.6 L1811.2,1332.8 L1812.5,1333.0 L1813.9,1333.2 L1815.2,1333.4 L1816.6,1333.6 L1817.9,1333.7 L1819.2,1333.9 L1820.6,1334.1 L1821.9,1334.3 L1823.3,1334.5 L1824.6,1334.7 L1826.0,1334.9 L1827.3,1335.1 L1828.6,1335.2 L1830.0,1335.4 L1831.3,1335.6 L1832.7,1335.8 L1834.0,1336.0" fill="none" stroke="#00f" stroke-width="4" stroke-linejoin="round"/><g fill="#00f"><polygon points="360.0,890.7 379.2,924.2 340.8,924.2"/><polygon points="494.0,478.3 513.2,511.8 474.8,511.8"/><polygon points="628.0,115.1 647.2,148.6 608.8,148.6"/><polygon points="762.0,929.2 781.2,962.7 742.8,962.7"/><polygon points="896.0,1157.0 915.2,1190.5 876.8,1190.5"/><polygon points="1030.0,1102.7 1049.2,1136.2 1010.8,1136.2"/><polygon points="1164.0,1085.8 1183.2,1119.3 1144.8,1119.3"/><polygon points="1298.0,1182.7 1317.2,1216.2 1278.8,1216.2"/><polygon points="1432.0,1266.7 1451.2,1300.2 1412.8,1300.2"/><polygon points="1566.0,1283.6 1585.2,1317.1 1546.8,1317.1"/><polygon points="1700.0,1295.7 1719.2,1329.2 1680.8,1329.2"/><polygon points="1834.0,1313.7 1853.2,1347.2 1814.8,1347.2"/></g>
</g>
<g font-family="'Liberation Serif', serif" font-weight="bold" fill="#000">
<g font-size="63.5" stroke="#fdfdfd" stroke-width="1.4"><text x="199" y="1351.5" text-anchor="end">0</text><text x="199" y="1168.1" text-anchor="end">5</text><text x="199" y="984.6" text-anchor="end">10</text><text x="199" y="801.2" text-anchor="end">15</text><text x="199" y="617.8" text-anchor="end">20</text><text x="199" y="434.4" text-anchor="end">25</text><text x="199" y="250.9" text-anchor="end">30</text><text x="199" y="67.5" text-anchor="end">35</text></g>
<g font-size="62" stroke="#fdfdfd" stroke-width="1.4"><text transform="translate(381.0,1404) rotate(-30)" text-anchor="end" x="0" y="0">0-0.01</text><text transform="translate(515.0,1404) rotate(-30)" text-anchor="end" x="0" y="0">0.01-0.025</text><text transform="translate(649.0,1404) rotate(-30)" text-anchor="end" x="0" y="0">0.025-0.1</text><text transform="translate(783.0,1404) rotate(-30)" text-anchor="end" x="0" y="0">0.1-0.25</text><text transform="translate(917.0,1404) rotate(-30)" text-anchor="end" x="0" y="0">0.25-0.63</text><text transform="translate(1051.0,1404) rotate(-30)" text-anchor="end" x="0" y="0">0.63-1.60</text><text transform="translate(1185.0,1404) rotate(-30)" text-anchor="end" x="0" y="0">1.60-4.00</text><text transform="translate(1319.0,1404) rotate(-30)" text-anchor="end" x="0" y="0">4.00-10.0</text><text transform="translate(1453.0,1404) rotate(-30)" text-anchor="end" x="0" y="0">10.0-25.0</text><text transform="translate(1587.0,1404) rotate(-30)" text-anchor="end" x="0" y="0">25.0-63.0</text><text transform="translate(1721.0,1404) rotate(-30)" text-anchor="end" x="0" y="0">63.0-100</text><text transform="translate(1855.0,1404) rotate(-30)" text-anchor="end" x="0" y="0">&gt;100</text></g>
<text x="1096.7" y="1605" font-size="68" text-anchor="middle">Pore size diameter (&#956;m)</text>
<text transform="translate(88.5,740.5) rotate(-90)" font-size="69" text-anchor="middle">Proportion (%)</text>

<rect x="1501" y="355.6" width="435" height="2.2" fill="#9a9aa6"/>
<rect x="1501.2" y="77.2" width="434" height="277.5" fill="#fdfdfd" stroke="#000" stroke-width="2.2"/>
<line x1="1546" y1="142" x2="1703" y2="142" stroke="#000" stroke-width="4"/>
<rect x="1610" y="128" width="28" height="28" fill="#000"/>
<line x1="1546" y1="228.4" x2="1703" y2="228.4" stroke="#f00" stroke-width="4"/>
<circle cx="1623.3" cy="228.4" r="16.3" fill="#f00"/>
<line x1="1546" y1="315.5" x2="1703" y2="315.5" stroke="#00f" stroke-width="4"/>
<polygon points="1623.3,292.7 1643,326.5 1603.6,326.5" fill="#00f"/>
<g font-size="71.5">
<text transform="translate(1716.7,165) scale(0.947,1)">CCM0</text>
<text transform="translate(1716.7,251.5) scale(0.947,1)">CCM1</text>
<text transform="translate(1716.7,338) scale(0.947,1)">CCM2</text>
</g>

</g>
</svg>
</body></html>
